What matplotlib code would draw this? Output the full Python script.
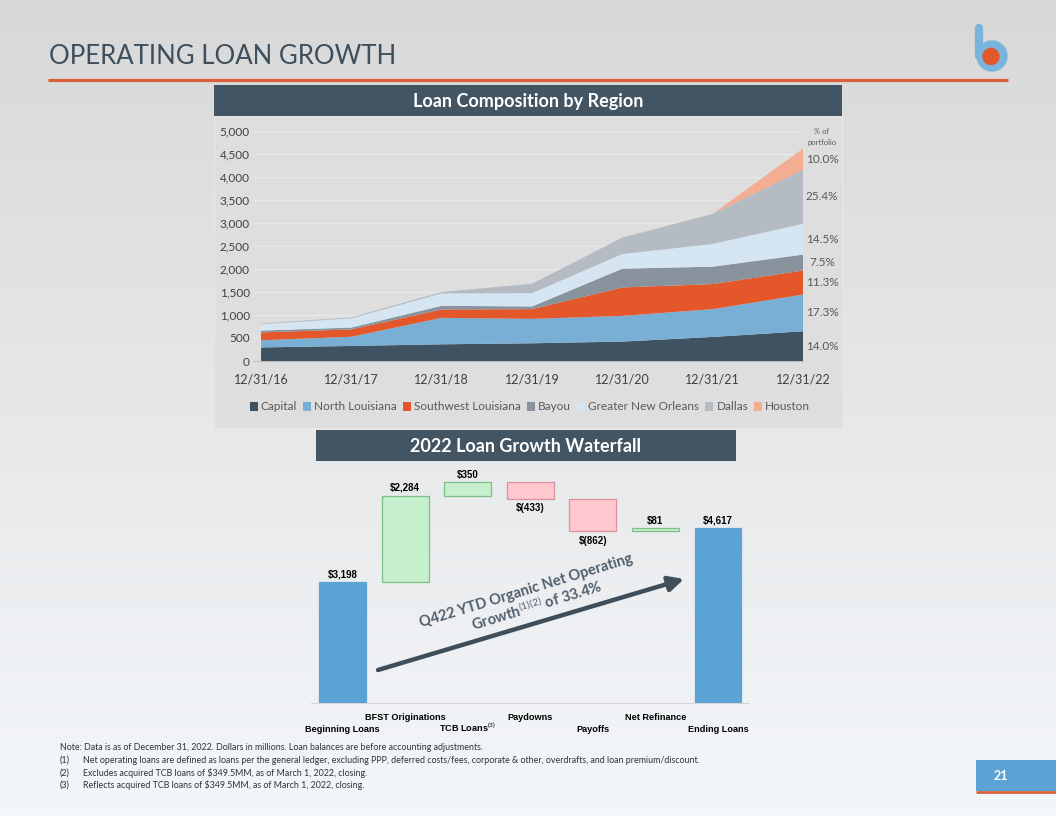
import numpy as np
import matplotlib
matplotlib.use('Agg')
import matplotlib.pyplot as plt
from matplotlib.patches import Rectangle, Circle, Patch
from matplotlib import transforms

W, H = 1056, 816

# loan composition by region ($MM)
years = ['12/31/16', '12/31/17', '12/31/18', '12/31/19', '12/31/20', '12/31/21', '12/31/22']
capital = [295, 327, 363, 385, 422, 523, 646]
north_la = [156, 200, 575, 531, 559, 604, 799]
southwest_la = [170, 160, 182, 211, 618, 545, 522]
bayou = [40, 40, 80, 58, 408, 378, 346]
greater_no = [140, 200, 270, 291, 319, 495, 669]
dallas = [15, 22, 30, 203, 357, 653, 1173]
houston = [0, 0, 0, 0, 0, 0, 462]
regions = ['Capital', 'North Louisiana', 'Southwest Louisiana', 'Bayou',
           'Greater New Orleans', 'Dallas', 'Houston']
region_colors = ['#3f5262', '#7aafd5', '#e3572a', '#89939d', '#d5e5f1', '#b4bbc3', '#f3ad93']
pct_labels = ['14.0%', '17.3%', '11.3%', '7.5%', '14.5%', '25.4%', '10.0%']

# 2022 waterfall ($MM)
wf_labels = ['Beginning Loans', 'BFST Originations', 'TCB Loans$^{(3)}$', 'Paydowns',
             'Payoffs', 'Net Refinance', 'Ending Loans']
wf_values = [3198, 2284, 350, -433, -862, 81, 4617]
wf_total = [True, False, False, False, False, False, True]

notes = [
    ('', 'Note: Data is as of December 31, 2022. Dollars in millions. Loan balances are before accounting adjustments.'),
    ('(1)', 'Net operating loans are defined as loans per the general ledger, excluding PPP, deferred costs/fees, corporate & other, overdrafts, and loan premium/discount.'),
    ('(2)', 'Excludes acquired TCB loans of $349.5MM, as of March 1, 2022, closing.'),
    ('(3)', 'Reflects acquired TCB loans of $349.5MM, as of March 1, 2022, closing.'),
]

SLATE = '#435563'

plt.rcParams['mathtext.fontset'] = 'custom'
plt.rcParams['mathtext.rm'] = 'Lato'
plt.rcParams['mathtext.it'] = 'Lato:italic'
plt.rcParams['mathtext.bf'] = 'Lato:bold'


def px(x0, y0, x1, y1):
    # pixel box (top-left origin) -> figure fraction rect
    return [x0 / W, 1 - y1 / H, (x1 - x0) / W, (y1 - y0) / H]


fig = plt.figure(figsize=(W / 100, H / 100), dpi=100)

# page background
bg = fig.add_axes([0, 0, 1, 1])
bg.set_xlim(0, W)
bg.set_ylim(H, 0)
bg.axis('off')
top = np.array([0xd8, 0xd8, 0xd8]) / 255
bot = np.array([0xf4, 0xf7, 0xfa]) / 255
t = np.linspace(0, 1, 256)[:, None, None]
grad = top * (1 - t) + bot * t
bg.imshow(grad, extent=[0, W, H, 0], aspect='auto', zorder=0)

# title + rule
bg.text(49, 56, 'OPERATING LOAN GROWTH', fontsize=18.5, family='Lato', fontweight='normal',
        color='#3d4e5c', va='center', ha='left', zorder=2)
bg.plot([48, 1008], [80, 80], color='#d9603b', lw=2.3, zorder=2, solid_capstyle='butt')

# logo
bg.plot([979, 979], [28, 56], color='#7ab4dd', lw=6, solid_capstyle='round', zorder=2)
bg.add_patch(Circle((992, 56), 15, color='#7ab4dd', zorder=2))
bg.add_patch(Circle((991, 56.5), 8, color='#e2582b', zorder=3))

# panels
bg.add_patch(Rectangle((214, 116), 628, 312, facecolor='#dedede', edgecolor='#e6e6e6', lw=1, zorder=1))
bg.add_patch(Rectangle((214, 85), 628, 31, facecolor=SLATE, edgecolor='none', zorder=2))
bg.text(528, 101, 'Loan Composition by Region', color='white', fontsize=13, family='Lato',
        fontweight='bold', ha='center', va='center', zorder=3)
bg.add_patch(Rectangle((316, 430), 420, 31, facecolor=SLATE, edgecolor='none', zorder=2))
bg.text(526, 446, '2022 Loan Growth Waterfall', color='white', fontsize=13, family='Lato',
        fontweight='bold', ha='center', va='center', zorder=3)

# ---- area chart ----
ax1 = fig.add_axes(px(254, 131, 803, 361))
ax1.set_facecolor('none')
x = np.arange(len(years))
series = [capital, north_la, southwest_la, bayou, greater_no, dallas, houston]
ax1.stackplot(x, series, colors=region_colors, lw=0, zorder=3)
ax1.set_xlim(-0.078, len(years) - 1)
ax1.set_ylim(0, 5000)
ax1.set_yticks(np.arange(0, 5001, 500))
ax1.set_yticklabels([f'{v:,}' for v in range(0, 5001, 500)])
ax1.set_xticks(x)
ax1.set_xticklabels(years)
ax1.grid(axis='y', color='#e9e9e9', lw=0.9, zorder=1)
ax1.set_axisbelow(True)
for s in ['top', 'right', 'left']:
    ax1.spines[s].set_visible(False)
ax1.spines['bottom'].set_color('#bfbfbf')
ax1.tick_params(axis='both', length=0, colors='#404040')
ax1.tick_params(axis='x', labelsize=9, pad=9)
ax1.tick_params(axis='y', labelsize=8.5, pad=3)
for lab in ax1.get_xticklabels() + ax1.get_yticklabels():
    lab.set_family('Lato')

# % of portfolio labels at layer mid-points of the last year
last = np.array([s[-1] for s in series])
cum = np.cumsum(last)
mids = cum - last / 2
trans = transforms.blended_transform_factory(ax1.transAxes, ax1.transData)
for m, lab in zip(mids, pct_labels):
    ax1.text(1.035, m, lab, transform=trans, ha='center', va='center', fontsize=8.5,
             family='Lato', color='#595959', clip_on=False)
bg.text(822, 131, '% of', fontsize=5.5, family='Lato', color='#595959', ha='center', va='center', zorder=3)
bg.text(822, 142, 'portfolio', fontsize=5.5, family='Lato', color='#595959', ha='center', va='center', zorder=3)

handles = [Patch(facecolor=c, edgecolor='none') for c in region_colors]
leg = fig.legend(handles, regions, loc='center', bbox_to_anchor=(530 / W, 1 - 407 / H), ncol=7,
                 frameon=False, handlelength=0.7, handleheight=0.7, handletextpad=0.25,
                 columnspacing=0.5, prop={'family': 'Lato', 'size': 8.5})
for txt in leg.get_texts():
    txt.set_color('#595959')

# ---- waterfall ----
ax2 = fig.add_axes(px(311.2, 457, 749.3, 703.3))
ax2.set_facecolor('none')
ax2.set_xlim(-0.5, len(wf_values) - 0.5)
ax2.set_ylim(0, 6500)
running = 0
bottoms, heights, fills, edges = [], [], [], []
for v, is_tot in zip(wf_values, wf_total):
    if is_tot:
        bottoms.append(0)
        heights.append(v)
        fills.append('#5ba3d4')
        edges.append('#5ba3d4')
        running = v
    else:
        bottoms.append(running if v > 0 else running + v)
        heights.append(abs(v))
        if v > 0:
            fills.append('#c6efce')
            edges.append('#7dbf84')
        else:
            fills.append('#ffc7ce')
            edges.append('#d8939b')
        running += v
xw = np.arange(len(wf_values))
ax2.bar(xw, heights, bottom=bottoms, width=0.75, color=fills, edgecolor=edges, lw=0.9, zorder=3)
for xi, v, b, h, is_tot in zip(xw, wf_values, bottoms, heights, wf_total):
    lab = f'${v:,}' if v >= 0 else f'$({-v:,})'
    if v >= 0:
        ax2.annotate(lab, (xi, b + h), xytext=(0, 2), textcoords='offset points', ha='center',
                     va='bottom', fontsize=7, fontweight='bold', family='Liberation Sans')
    else:
        ax2.annotate(lab, (xi, b), xytext=(0, -3), textcoords='offset points', ha='center',
                     va='top', fontsize=7, fontweight='bold', family='Liberation Sans')
for s in ['top', 'right', 'left']:
    ax2.spines[s].set_visible(False)
ax2.spines['bottom'].set_color('#d6d6d6')
ax2.set_xticks([])
ax2.set_yticks([])

# category labels on two staggered rows
ov = fig.add_axes([0, 0, 1, 1])
ov.set_xlim(0, W)
ov.set_ylim(H, 0)
ov.axis('off')
ov.set_facecolor('none')
ctrans = transforms.blended_transform_factory(ax2.transData, ov.transData)
for i, lab in enumerate(wf_labels):
    yy = 719.5 if i % 2 == 1 else 731.5
    ov.text(i, yy, lab, transform=ctrans, ha='center', va='baseline', fontsize=6.6,
            fontweight='bold', family='Liberation Sans')

# growth arrow
ov.annotate('', xy=(684, 579), xytext=(378, 670),
            arrowprops=dict(arrowstyle='-|>,head_length=0.9,head_width=0.45', lw=3.2,
                            color='#3e4e5b', shrinkA=0, shrinkB=0))
ov.text(526, 591, 'Q422 YTD Organic Net Operating', rotation=17, rotation_mode='anchor',
        ha='center', va='center', fontsize=10.5, family='Lato', fontweight='bold', color='#4f5f6d')
ov.text(537, 605, r'Growth$^{\mathrm{(1)(2)}}$ of 33.4%', rotation=17, rotation_mode='anchor',
        ha='center', va='center', fontsize=10.5, family='Lato', fontweight='bold', color='#4f5f6d')

# footnotes
for k, (num, txt) in enumerate(notes):
    yy = 748 + k * 12.3
    if num:
        ov.text(60, yy, num, fontsize=6.4, family='Lato', color='#333333', va='center')
        ov.text(83, yy, txt, fontsize=6.4, family='Lato', color='#333333', va='center')
    else:
        ov.text(60, yy, txt, fontsize=6.4, family='Lato', color='#333333', va='center')

# page number
ov.add_patch(Rectangle((976, 760), 80, 31, facecolor='#5ba3d4', edgecolor='none'))
ov.plot([976, 1056], [792, 792], color='#d9603b', lw=2, solid_capstyle='butt')
ov.text(1001, 776, '21', color='white', fontsize=9, fontweight='bold', family='Lato',
        ha='center', va='center')

fig.savefig('out.png', dpi=100)
